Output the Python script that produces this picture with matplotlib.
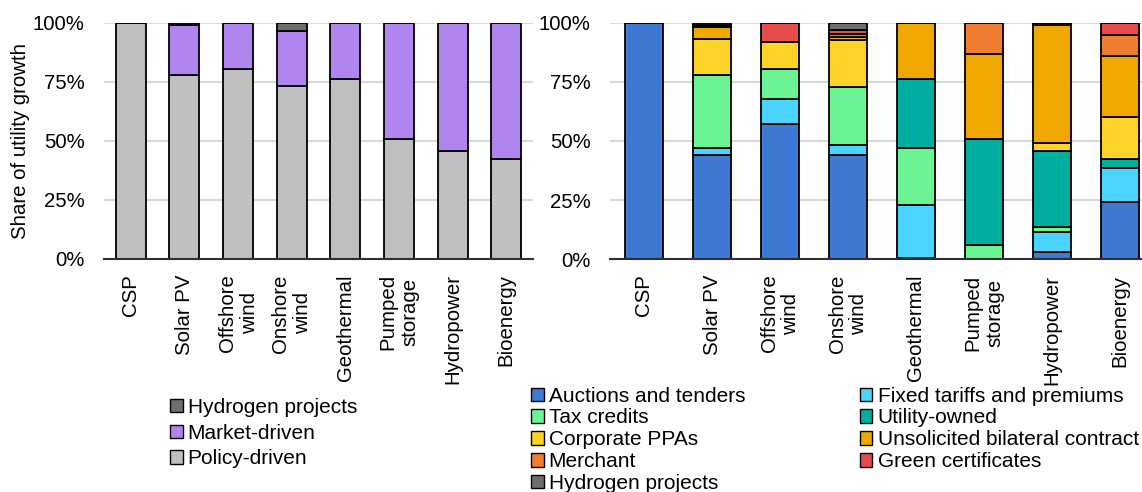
import matplotlib
matplotlib.use("Agg")
import matplotlib.pyplot as plt
from matplotlib.patches import Patch
import numpy as np

plt.rcParams['font.family'] = ['Liberation Sans', 'DejaVu Sans']

categories = ["CSP", "Solar PV", "Offshore\nwind", "Onshore\nwind", "Geothermal",
              "Pumped\nstorage", "Hydropower", "Bioenergy"]

# Left chart (share, %)
policy_driven = [100.0, 78.0, 80.5, 73.2, 76.3, 51.0, 45.9, 42.5]
market_driven = [0.0, 21.0, 19.3, 23.5, 23.7, 49.0, 54.1, 57.5]
hydrogen_left = [0.0, 1.0, 0.2, 3.3, 0.0, 0.0, 0.0, 0.0]

# Right chart (share, %)
auctions = [100.0, 44.1, 57.0, 44.1, 0.4, 0.0, 3.1, 24.4]
fixed_tariffs = [0.0, 3.1, 10.7, 4.1, 22.6, 0.0, 8.4, 14.1]
tax_credits = [0.0, 30.5, 12.6, 24.8, 24.2, 6.2, 2.0, 0.0]
utility_owned = [0.0, 0.0, 0.0, 0.0, 29.1, 44.5, 32.3, 3.9]
corporate_ppas = [0.0, 15.3, 11.5, 19.7, 0.0, 0.0, 3.5, 17.9]
unsolicited = [0.0, 5.0, 0.0, 1.2, 23.7, 36.2, 49.6, 25.5]
merchant = [0.0, 0.8, 0.0, 1.5, 0.0, 13.1, 1.1, 8.8]
green_certs = [0.0, 0.3, 8.2, 1.5, 0.0, 0.0, 0.0, 5.4]
hydrogen_right = [0.0, 0.9, 0.0, 3.1, 0.0, 0.0, 0.0, 0.0]

left_series = [("Policy-driven", policy_driven, "#BFBFBF"),
               ("Market-driven", market_driven, "#B086EE"),
               ("Hydrogen projects", hydrogen_left, "#6E6E6E")]

right_series = [("Auctions and tenders", auctions, "#3E7AD3"),
                ("Fixed tariffs and premiums", fixed_tariffs, "#4AD4FF"),
                ("Tax credits", tax_credits, "#6BF394"),
                ("Utility-owned", utility_owned, "#00AE9F"),
                ("Corporate PPAs", corporate_ppas, "#FDD327"),
                ("Unsolicited bilateral contract", unsolicited, "#F0A800"),
                ("Merchant", merchant, "#EE7D31"),
                ("Green certificates", green_certs, "#E54B4B"),
                ("Hydrogen projects", hydrogen_right, "#6E6E6E")]

W, H = 1142, 492
fig = plt.figure(figsize=(W / 100, H / 100), dpi=100)
L1, R1 = 104, 533
ax1 = fig.add_axes([L1 / W, 1 - 259 / H, (R1 - L1) / W, (259 - 23) / H])
ax2 = fig.add_axes([610 / W, 1 - 259.3 / H, (1154 - 610) / W, (259.3 - 22.7) / H])

x = np.arange(len(categories))
tick_fs = 14.7
leg_fs = 15


def draw(ax, series, width):
    bottom = np.zeros(len(categories))
    handles = {}
    for name, vals, col in series:
        v = np.array(vals, dtype=float)
        ax.bar(x, v, width, bottom=bottom, color=col, edgecolor="black",
               linewidth=1.3, zorder=3)
        handles[name] = Patch(facecolor=col, edgecolor="black", linewidth=1.0)
        bottom += v
    ax.set_xlim(-0.5, len(categories) - 0.5)
    ax.set_ylim(0, 100)
    ax.set_yticks([0, 25, 50, 75, 100])
    ax.set_yticklabels(["0%", "25%", "50%", "75%", "100%"], fontsize=tick_fs)
    ax.set_xticks(x)
    ax.set_xticklabels(categories, rotation=90, fontsize=tick_fs,
                       ha="center", va="top", multialignment="center")
    ax.tick_params(axis="y", length=0, pad=14)
    ax.tick_params(axis="x", length=0, pad=11)
    ax.grid(axis="y", color="#D9D9D9", linewidth=1.5, zorder=0)
    ax.set_axisbelow(True)
    for s in ["left", "right", "top"]:
        ax.spines[s].set_visible(False)
    ax.spines["bottom"].set_color("#303030")
    ax.spines["bottom"].set_linewidth(1.5)
    ax.spines["bottom"].set_zorder(4)
    return handles


h1 = draw(ax1, left_series, 0.56)
h2 = draw(ax2, right_series, 0.57)
ax1.set_ylabel("Share of utility growth", fontsize=tick_fs)
ax1.yaxis.set_label_coords((30 - L1) / (R1 - L1), 0.5)

# Left legend
order1 = ["Hydrogen projects", "Market-driven", "Policy-driven"]
fig.legend([h1[n] for n in order1], order1, loc="upper left",
           bbox_to_anchor=(170 / W, 1 - 398 / H), frameon=False, fontsize=leg_fs,
           handlelength=0.6, handleheight=0.6, handletextpad=0.25,
           labelspacing=0.32, borderpad=0, borderaxespad=0)

# Right legend (row-wise order in two columns)
col1 = ["Auctions and tenders", "Tax credits", "Corporate PPAs", "Merchant",
        "Hydrogen projects"]
col2 = ["Fixed tariffs and premiums", "Utility-owned",
        "Unsolicited bilateral contract", "Green certificates"]
order2 = col1 + col2
fig.legend([h2[n] for n in order2], order2, loc="upper left", ncol=2,
           bbox_to_anchor=(531 / W, 1 - 386.5 / H), frameon=False, fontsize=leg_fs,
           handlelength=0.6, handleheight=0.6, handletextpad=0.25,
           labelspacing=0.14, columnspacing=5.5, borderpad=0, borderaxespad=0)

fig.savefig("out.png", dpi=100)
